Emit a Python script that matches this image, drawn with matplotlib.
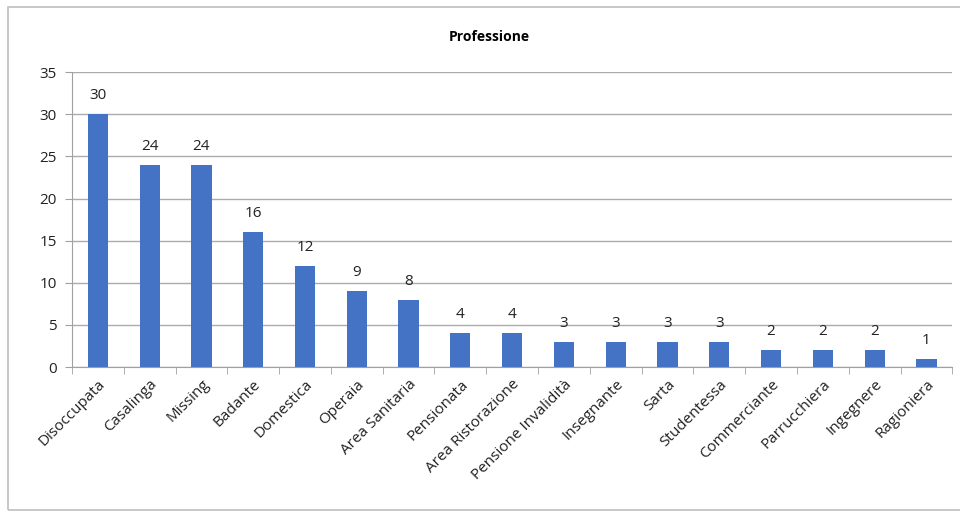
import matplotlib.pyplot as plt
from matplotlib.patches import Rectangle
import numpy as np

professioni = ['Disoccupata', 'Casalinga', 'Missing', 'Badante', 'Domestica',
               'Operaia', 'Area Sanitaria', 'Pensionata', 'Area Ristorazione',
               'Pensione Invalidità', 'Insegnante', 'Sarta', 'Studentessa',
               'Commerciante', 'Parrucchiera', 'Ingegnere', 'Ragioniera']
conteggi = [30, 24, 24, 16, 12, 9, 8, 4, 4, 3, 3, 3, 3, 2, 2, 2, 1]
y_ticks = [0, 5, 10, 15, 20, 25, 30, 35]


def plot_professioni():
    plt.rcParams['font.family'] = ['Open Sans', 'DejaVu Sans']
    fig = plt.figure(figsize=(9.6, 5.12), dpi=100)

    # cornice del grafico
    fig.patches.append(Rectangle((0.008, 0.004), 1.2, 0.982, transform=fig.transFigure,
                                 fill=False, edgecolor='#BFBFBF', linewidth=1.2))

    ax = fig.add_axes([0.075, 0.283, 0.917, 0.576])
    x = np.arange(len(professioni))
    bars = ax.bar(x, conteggi, width=0.39, color='#4472C4', zorder=3)
    for b, v in zip(bars, conteggi):
        ax.text(b.get_x() + b.get_width() / 2, v + 1.3, str(v),
                ha='center', va='bottom', fontsize=11, color='#222222')

    ax.set_xlim(-0.5, len(professioni) - 0.5)
    ax.set_ylim(0, 35)
    ax.set_yticks(y_ticks)
    ax.yaxis.grid(True, color='#ABABAB', linewidth=1)
    ax.set_axisbelow(True)
    ax.set_xticks(x)
    ax.set_xticklabels(professioni, rotation=45, ha='right', rotation_mode='anchor',
                       fontsize=11, color='#222222')
    ax.set_xticks(np.arange(-0.5, len(professioni), 1), minor=True)
    ax.tick_params(axis='x', which='major', length=0, pad=7)
    ax.tick_params(axis='x', which='minor', length=5, color='#A0A0A0')
    ax.tick_params(axis='y', length=5, color='#A0A0A0', labelsize=11, labelcolor='#222222', pad=6)
    for s in ['top', 'right']:
        ax.spines[s].set_visible(False)
    ax.spines['left'].set_color('#A0A0A0')
    ax.spines['bottom'].set_color('#A0A0A0')

    fig.text(0.51, 0.928, 'Professione', ha='center', va='center',
             fontsize=10, fontweight='bold')
    fig.savefig('out.png', dpi=100)


def main():
    plot_professioni()


if __name__ == '__main__':
    main()
